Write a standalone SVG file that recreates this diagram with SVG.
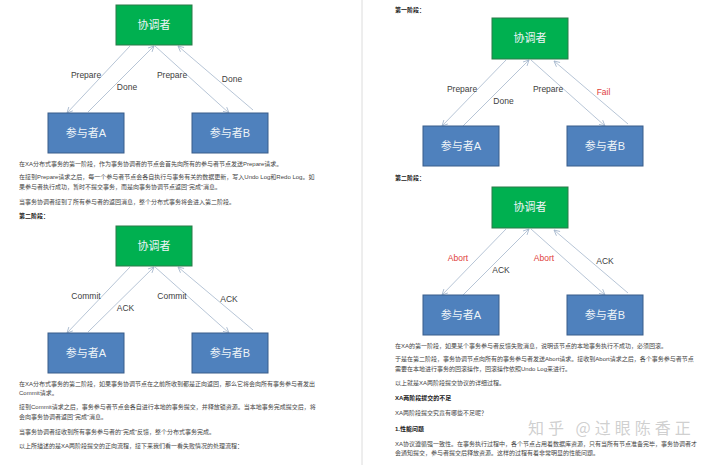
<svg xmlns="http://www.w3.org/2000/svg" width="720" height="465" viewBox="0 0 720 465">
<style>
.bg{fill:#fff}
.coord rect{fill:#00b050;stroke:#2a7a48;stroke-width:1}
.part rect{fill:#4f81bd;stroke:#385d8a;stroke-width:1}
.nt{font-family:"Liberation Sans","Noto Sans CJK SC",sans-serif;font-size:11px;fill:#eef4f8;text-anchor:middle}
.lbl{font-family:"Liberation Sans","Noto Sans CJK SC",sans-serif;font-size:8.5px;fill:#404040;text-anchor:middle}
.red{fill:#e0403a}
.edge line{stroke:#a4b6cc;stroke-width:0.8;fill:none;marker-end:url(#ah)}
.p{font-family:"Liberation Sans","Noto Sans CJK SC",sans-serif;font-size:6px;fill:#444}
.b{font-weight:bold;fill:#222}
.wm{font-family:"Noto Sans CJK SC",sans-serif;font-size:16px;fill:#c4c4c4;fill-opacity:0.8;letter-spacing:4px}
</style>
<defs>
<marker id="ah" viewBox="0 0 10 10" refX="9" refY="5" markerWidth="7" markerHeight="7" orient="auto" markerUnits="userSpaceOnUse">
<polyline points="1,1 9,5 1,9" fill="none" stroke="#a4b6cc" stroke-width="1.2"/>
</marker>
</defs>
<rect class="bg" x="0" y="0" width="720" height="465"/>
<line x1="362" y1="0" x2="362" y2="465" stroke="#dcdcdc" stroke-width="1"/>

<!-- connectors -->
<g id="connectors" class="edge">
<line x1="130" y1="46" x2="67" y2="113"/>
<line x1="88" y1="112" x2="154" y2="46"/>
<line x1="155" y1="46" x2="229" y2="113"/>
<line x1="253" y1="110" x2="178" y2="46"/>

<line x1="130" y1="267" x2="67" y2="333"/>
<line x1="88" y1="332" x2="154" y2="267"/>
<line x1="155" y1="267" x2="229" y2="333"/>
<line x1="253" y1="330" x2="178" y2="267"/>

<line x1="506" y1="60" x2="442" y2="126"/>
<line x1="463" y1="126" x2="529" y2="60"/>
<line x1="531" y1="60" x2="605" y2="126"/>
<line x1="628" y1="124" x2="554" y2="61"/>

<line x1="506" y1="229" x2="442" y2="295"/>
<line x1="463" y1="295" x2="529" y2="229"/>
<line x1="531" y1="229" x2="605" y2="295"/>
<line x1="628" y1="293" x2="554" y2="230"/>
</g>

<!-- edge labels -->
<g id="edge-labels">
<text class="lbl" x="86" y="78">Prepare</text>
<text class="lbl" x="127" y="90">Done</text>
<text class="lbl" x="172" y="78">Prepare</text>
<text class="lbl" x="232" y="82">Done</text>

<text class="lbl" x="86" y="299">Commit</text>
<text class="lbl" x="125.5" y="311">ACK</text>
<text class="lbl" x="172" y="299">Commit</text>
<text class="lbl" x="229" y="302">ACK</text>

<text class="lbl" x="462" y="92">Prepare</text>
<text class="lbl" x="503.5" y="104">Done</text>
<text class="lbl" x="548" y="92">Prepare</text>
<text class="lbl red" x="603.5" y="95">Fail</text>

<text class="lbl red" x="458" y="261">Abort</text>
<text class="lbl" x="501" y="273">ACK</text>
<text class="lbl red" x="544" y="261">Abort</text>
<text class="lbl" x="605" y="264">ACK</text>
</g>

<!-- nodes: diagram 1 -->
<g id="d1-coord" class="coord"><rect x="116" y="5" width="76" height="40"/><text class="nt" x="154" y="29">协调者</text></g>
<g id="d1-partA" class="part"><rect x="48" y="113" width="76" height="40"/><text class="nt" x="86" y="137">参与者A</text></g>
<g id="d1-partB" class="part"><rect x="192" y="113" width="76" height="40"/><text class="nt" x="230" y="137">参与者B</text></g>

<!-- nodes: diagram 2 -->
<g id="d2-coord" class="coord"><rect x="116" y="226" width="76" height="40"/><text class="nt" x="154" y="250">协调者</text></g>
<g id="d2-partA" class="part"><rect x="48" y="333" width="76" height="40"/><text class="nt" x="86" y="357">参与者A</text></g>
<g id="d2-partB" class="part"><rect x="192" y="333" width="76" height="40"/><text class="nt" x="230" y="357">参与者B</text></g>

<!-- nodes: diagram 3 -->
<g id="d3-coord" class="coord"><rect x="492" y="18" width="76" height="41"/><text class="nt" x="530" y="42">协调者</text></g>
<g id="d3-partA" class="part"><rect x="423" y="126" width="76" height="40"/><text class="nt" x="461" y="150">参与者A</text></g>
<g id="d3-partB" class="part"><rect x="567" y="126" width="76" height="40"/><text class="nt" x="605" y="150">参与者B</text></g>

<!-- nodes: diagram 4 -->
<g id="d4-coord" class="coord"><rect x="492" y="187" width="76" height="41"/><text class="nt" x="530" y="211">协调者</text></g>
<g id="d4-partA" class="part"><rect x="423" y="295" width="76" height="40"/><text class="nt" x="461" y="319">参与者A</text></g>
<g id="d4-partB" class="part"><rect x="567" y="295" width="76" height="40"/><text class="nt" x="605" y="319">参与者B</text></g>

<!-- left column text -->
<g id="text-left">
<text class="p" x="19" y="166">在XA分布式事务的第一阶段，作为事务协调者的节点会首先向所有的参与者节点发送Prepare请求。</text>
<text class="p" x="19" y="179">在接到Prepare请求之后，每一个参与者节点会各自执行与事务有关的数据更新，写入Undo Log和Redo Log。如</text>
<text class="p" x="19" y="189">果参与者执行成功，暂时不提交事务，而是向事务协调节点返回“完成”消息。</text>
<text class="p" x="19" y="204">当事务协调者接到了所有参与者的返回消息，整个分布式事务将会进入第二阶段。</text>
<text class="p b" x="19" y="218">第二阶段：</text>
<text class="p" x="19" y="386">在XA分布式事务的第二阶段，如果事务协调节点在之前所收到都是正向返回，那么它将会向所有事务参与者发出</text>
<text class="p" x="19" y="395">Commit请求。</text>
<text class="p" x="19" y="409">接到Commit请求之后，事务参与者节点会各自进行本地的事务提交，并释放锁资源。当本地事务完成提交后，将</text>
<text class="p" x="19" y="419">会向事务协调者返回“完成”消息。</text>
<text class="p" x="19" y="434">当事务协调者接收到所有事务参与者的“完成”反馈，整个分布式事务完成。</text>
<text class="p" x="19" y="448">以上所描述的是XA两阶段提交的正向流程，接下来我们看一看失败情况的处理流程：</text>
</g>

<!-- right column text -->
<g id="text-right">
<text class="p b" x="395" y="12">第一阶段：</text>
<text class="p b" x="395" y="180">第二阶段：</text>
<text class="p" x="395" y="348">在XA的第一阶段，如果某个事务参与者反馈失败消息，说明该节点的本地事务执行不成功，必须回滚。</text>
<text class="p" x="395" y="361">于是在第二阶段，事务协调节点向所有的事务参与者发送Abort请求。接收到Abort请求之后，各个事务参与者节点</text>
<text class="p" x="395" y="371">需要在本地进行事务的回滚操作，回滚操作依照Undo Log来进行。</text>
<text class="p" x="395" y="385">以上就是XA两阶段提交协议的详细过程。</text>
<text class="p b" x="395" y="400">XA两阶段提交的不足</text>
<text class="p" x="395" y="415">XA两阶段提交究竟有哪些不足呢？</text>
<text class="p b" x="395" y="431">1.性能问题</text>
<text class="p" x="395" y="446">XA协议遵循强一致性。在事务执行过程中，各个节点占用着数据库资源，只有当所有节点准备完毕，事务协调者才</text>
<text class="p" x="395" y="455">会通知提交，参与者提交后释放资源。这样的过程有着非常明显的性能问题。</text>
</g>

<text class="wm" x="528" y="434">知乎 @过眼陈香正</text>
</svg>
